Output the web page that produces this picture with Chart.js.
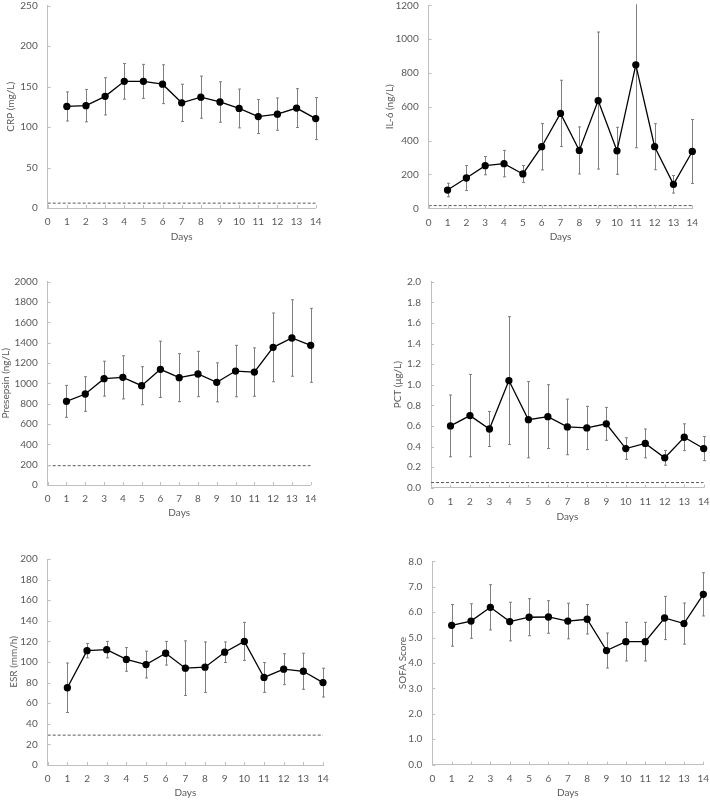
<!DOCTYPE html>
<html>
<head>
<meta charset="utf-8">
<title>Biomarkers over 14 days</title>
<script src="https://cdn.jsdelivr.net/npm/chart.js@4.4.0/dist/chart.umd.min.js"></script>
<style>
  body { margin: 0; background: #fff; }
  #wrap { position: relative; width: 710px; height: 800px; }
  #wrap canvas { position: absolute; }
</style>
</head>
<body>
<div id="wrap"></div>
<script>
// day numbers on the x axis
const days = [1, 2, 3, 4, 5, 6, 7, 8, 9, 10, 11, 12, 13, 14];

// mean and SD per day
const crpMean = [125.5, 126.5, 138, 156.5, 156.5, 153, 130, 137, 131, 123, 113, 116, 123.5, 110.5];
const crpSd   = [18, 20, 23, 22, 21, 24, 23, 26, 25, 24, 21, 20, 24, 26];
const crpRef  = 6;

const il6Mean = [108, 179, 252, 264, 203, 364, 561, 342, 637, 340, 848, 364, 142, 336];
const il6Sd   = [40, 74, 54, 78, 50, 137, 196, 139, 405, 139, 490, 136, 52, 189];
const il6Ref  = 16;

const presepsinMean = [823, 895, 1046, 1059, 977, 1138, 1056, 1092, 1010, 1121, 1111, 1354, 1446, 1374];
const presepsinSd   = [157, 170, 172, 212, 187, 277, 236, 223, 192, 253, 238, 338, 376, 364];
const presepsinRef  = 190;

const pctMean = [0.60, 0.70, 0.57, 1.04, 0.66, 0.69, 0.59, 0.58, 0.62, 0.38, 0.43, 0.29, 0.49, 0.38];
const pctSd   = [0.30, 0.40, 0.17, 0.62, 0.37, 0.31, 0.27, 0.21, 0.16, 0.105, 0.14, 0.072, 0.13, 0.117];
const pctRef  = 0.05;

const esrMean = [75, 111, 112, 102.5, 97.5, 108.5, 94, 95, 109.5, 120, 85, 93, 91, 80];
const esrSd   = [24, 7, 8, 11.5, 13, 11.5, 26.5, 24.5, 10, 18.5, 14.5, 15, 17.5, 14];
const esrRef  = 29;

const sofaMean = [5.48, 5.65, 6.19, 5.63, 5.80, 5.81, 5.65, 5.72, 4.49, 4.84, 4.84, 5.77, 5.55, 6.70];
const sofaSd   = [0.82, 0.68, 0.89, 0.76, 0.73, 0.64, 0.70, 0.58, 0.69, 0.76, 0.76, 0.85, 0.81, 0.85];

// panel setup: data + where each plot sits on the page
const panels = [
  { label: 'CRP (mg/L)', mean: crpMean, sd: crpSd, ref: crpRef, max: 250, step: 50, dec: 0,
    box: [0, 0, 355, 265], left: 47.7, top: 5.7, right: 39.3, xh: 57, yTitlePad: 5, xTitlePad: 22 },
  { label: 'IL-6 (ng/L)', mean: il6Mean, sd: il6Sd, ref: il6Ref, max: 1200, step: 200, dec: 0,
    box: [355, 0, 355, 265], left: 73.7, top: 5, right: 17.7, xh: 56.7, yTitlePad: 29, xTitlePad: 22 },
  { label: 'Presepsin (ng/L)', mean: presepsinMean, sd: presepsinSd, ref: presepsinRef, max: 2000, step: 200, dec: 0,
    box: [0, 265, 355, 270], left: 47.7, top: 16.7, right: 44.3, xh: 50, yTitlePad: 0, xTitlePad: 16 },
  { label: 'PCT (μg/L)', mean: pctMean, sd: pctSd, ref: pctRef, max: 2, step: 0.2, dec: 1,
    box: [355, 265, 355, 270], left: 76, top: 16.7, right: 6.3, xh: 47.3, yTitlePad: 37, xTitlePad: 12 },
  { label: 'ESR (mm/h)', mean: esrMean, sd: esrSd, ref: esrRef, max: 200, step: 20, dec: 0,
    box: [0, 535, 355, 265], left: 47.7, top: 24, right: 32, xh: 35, yTitlePad: 8, xTitlePad: 1.3 },
  { label: 'SOFA Score', mean: sofaMean, sd: sofaSd, ref: null, max: 8, step: 1, dec: 1,
    box: [355, 535, 355, 265], left: 77.3, top: 26.3, right: 6.7, xh: 35.3, yTitlePad: 41.7, xTitlePad: 1.3 }
];

Chart.defaults.font.family = 'Lato, "Open Sans", sans-serif';
Chart.defaults.font.size = 10;
Chart.defaults.color = '#595959';

const axisColor = '#bfbfbf';

// mean +/- SD whiskers, drawn under the line
const errorBars = {
  id: 'errorBars',
  beforeDatasetsDraw(chart, args, opts) {
    const { ctx, chartArea, scales: { x, y } } = chart;
    ctx.save();
    ctx.beginPath();
    ctx.rect(chartArea.left, chartArea.top - 1, chartArea.right - chartArea.left + 4, chartArea.bottom - chartArea.top + 1);
    ctx.clip();
    ctx.strokeStyle = '#7f7f7f';
    ctx.lineWidth = 1;
    opts.mean.forEach((m, i) => {
      const px = Math.round(x.getPixelForValue(days[i])) + 0.5;
      const hi = y.getPixelForValue(m + opts.sd[i]);
      const lo = y.getPixelForValue(m - opts.sd[i]);
      ctx.beginPath();
      ctx.moveTo(px, hi); ctx.lineTo(px, lo);
      ctx.moveTo(px - 1.5, hi); ctx.lineTo(px + 1.5, hi);
      ctx.moveTo(px - 1.5, lo); ctx.lineTo(px + 1.5, lo);
      ctx.stroke();
    });
    ctx.restore();
  }
};

// Excel style tick marks pointing inside the plot
const innerTicks = {
  id: 'innerTicks',
  afterDraw(chart) {
    const { ctx, chartArea, scales: { x, y } } = chart;
    ctx.save();
    ctx.strokeStyle = axisColor;
    ctx.lineWidth = 1;
    ctx.beginPath();
    x.ticks.forEach(t => {
      const px = Math.round(x.getPixelForValue(t.value)) + 0.5;
      ctx.moveTo(px, chartArea.bottom); ctx.lineTo(px, chartArea.bottom - 3);
    });
    y.ticks.forEach(t => {
      const py = Math.round(y.getPixelForValue(t.value)) + 0.5;
      ctx.moveTo(chartArea.left, py); ctx.lineTo(chartArea.left + 3, py);
    });
    ctx.stroke();
    ctx.restore();
  }
};

const wrap = document.getElementById('wrap');

panels.forEach(p => {
  const canvas = document.createElement('canvas');
  canvas.width = p.box[2];
  canvas.height = p.box[3];
  canvas.style.left = p.box[0] + 'px';
  canvas.style.top = p.box[1] + 'px';
  wrap.appendChild(canvas);

  const datasets = [{
    data: days.map((d, i) => ({ x: d, y: p.mean[i] })),
    borderColor: '#000',
    borderWidth: 1.3,
    pointRadius: 3,
    pointBackgroundColor: '#000',
    pointBorderColor: '#000',
    clip: false
  }];
  if (p.ref !== null) {
    datasets.push({
      data: [{ x: 0, y: p.ref }, { x: 14, y: p.ref }],
      borderColor: '#595959',
      borderWidth: 1,
      borderDash: [3, 2],
      pointRadius: 0
    });
  }

  new Chart(canvas, {
    type: 'line',
    data: { datasets },
    options: {
      responsive: false,
      animation: false,
      devicePixelRatio: 1,
      layout: { padding: { top: p.top, right: p.right, left: 0, bottom: 0 } },
      plugins: {
        legend: { display: false },
        tooltip: { enabled: false },
        errorBars: { mean: p.mean, sd: p.sd }
      },
      scales: {
        x: {
          type: 'linear',
          min: 0,
          max: 14,
          grid: { display: false, drawTicks: false },
          border: { color: axisColor, width: 1 },
          ticks: { stepSize: 1, padding: 8, maxRotation: 0, autoSkip: false },
          title: { display: true, text: 'Days', padding: { top: 0, bottom: p.xTitlePad } },
          afterFit(s) { s.height = p.xh; s.paddingLeft = 0; s.paddingRight = 0; }
        },
        y: {
          min: 0,
          max: p.max,
          grid: { display: false, drawTicks: false },
          border: { color: axisColor, width: 1 },
          ticks: { stepSize: p.step, padding: 10, callback: v => v.toFixed(p.dec) },
          title: { display: true, text: p.label, padding: { top: p.yTitlePad, bottom: 0 } },
          afterFit(s) { s.width = p.left; s.paddingTop = 0; s.paddingBottom = 0; }
        }
      }
    },
    plugins: [errorBars, innerTicks]
  });
});
</script>
</body>
</html>
